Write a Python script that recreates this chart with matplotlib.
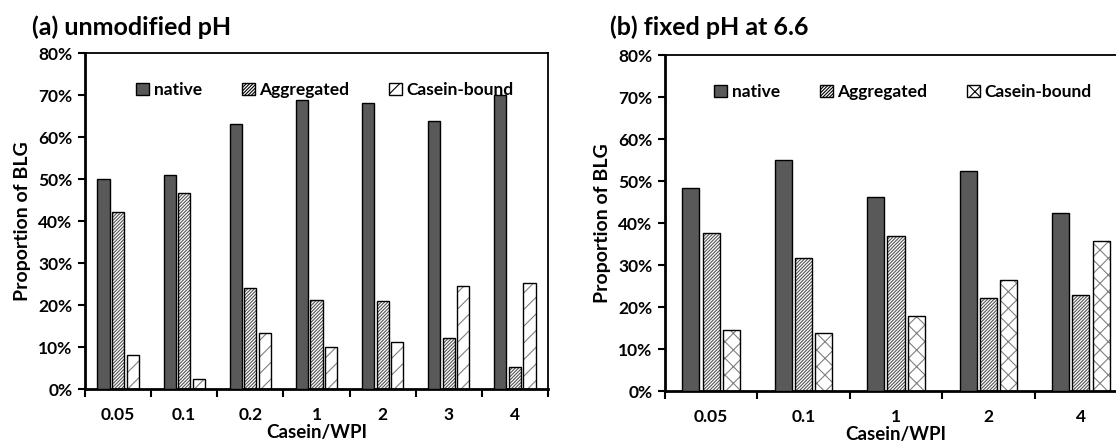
import matplotlib
matplotlib.use("Agg")
import matplotlib.pyplot as plt
import numpy as np
from matplotlib.ticker import FuncFormatter
from matplotlib.patches import Patch

plt.rcParams['font.family'] = ['Lato', 'DejaVu Sans']
plt.rcParams['hatch.linewidth'] = 0.8

# ---- data ----
cats_a = ["0.05", "0.1", "0.2", "1", "2", "3", "4"]
native_a = [50.0, 51.0, 63.1, 68.9, 68.2, 63.7, 70.0]
aggregated_a = [42.2, 46.7, 24.0, 21.3, 20.9, 12.1, 5.2]
casein_a = [8.0, 2.5, 13.3, 10.0, 11.1, 24.5, 25.2]

cats_b = ["0.05", "0.1", "1", "2", "4"]
native_b = [48.4, 55.1, 46.2, 52.4, 42.4]
aggregated_b = [37.7, 31.7, 36.9, 22.1, 22.9]
casein_b = [14.6, 13.7, 17.8, 26.4, 35.7]

series_names = ["native", "Aggregated", "Casein-bound"]
yticks = [0, 10, 20, 30, 40, 50, 60, 70, 80]

W, H = 1116, 445
fig = plt.figure(figsize=(W / 100, H / 100), dpi=100)

def px_axes(x0, y0, x1, y1):
    return fig.add_axes([x0 / W, 1 - y1 / H, (x1 - x0) / W, (y1 - y0) / H])

ax_a = px_axes(85, 53, 548, 389)
ax_b = px_axes(665, 55, 1127, 391)

styles = [
    dict(facecolor="#595959", hatch=None, hatchcolor=None),
    dict(facecolor="white", hatch="//////////", hatchcolor="#555555"),
    dict(facecolor="white", hatch="xx", hatchcolor="#808080"),
]

def draw(ax, cats, series, cb_hatch, leg_x):
    n = len(cats)
    x = np.arange(n) + 0.5
    width = 0.185
    offsets = [-0.22, 0.0, 0.22]
    for k, (vals, st) in enumerate(zip(series, styles)):
        hatch = st["hatch"] if k != 2 else cb_hatch
        if hatch:
            plt.rcParams['hatch.color'] = st["hatchcolor"]
            ax.bar(x + offsets[k], vals, width, facecolor=st["facecolor"],
                   edgecolor=st["hatchcolor"], hatch=hatch, linewidth=0, zorder=2)
            ax.bar(x + offsets[k], vals, width, facecolor="none",
                   edgecolor="black", linewidth=1.0, zorder=3)
        else:
            ax.bar(x + offsets[k], vals, width, facecolor=st["facecolor"],
                   edgecolor="black", linewidth=1.0, zorder=3)
    prox = []
    for k, st in enumerate(styles):
        hatch = st["hatch"] if k != 2 else cb_hatch
        prox.append(Patch(facecolor=st["facecolor"], edgecolor="black",
                          hatch=hatch, linewidth=1.0))
    ax.legend(prox, series_names, ncol=3, frameon=False,
              loc="upper center", bbox_to_anchor=(leg_x, 0.96),
              handlelength=0.75, handleheight=0.75, handletextpad=0.25,
              columnspacing=2.3,
              prop=dict(family=['Lato', 'DejaVu Sans'], weight='bold', size=12.5))
    ax.set_ylim(0, 80)
    ax.set_xlim(0, n)
    ax.set_yticks(yticks)
    ax.yaxis.set_major_formatter(FuncFormatter(lambda v, p: f"{int(v)}%"))
    ax.set_xticks(np.arange(n + 1))
    ax.set_xticklabels([])
    ax.set_xticks(x, minor=True)
    ax.set_xticklabels(cats, minor=True)
    ax.tick_params(axis="x", which="major", length=6, width=1.5, direction="out")
    ax.tick_params(axis="x", which="minor", length=0, pad=13, labelsize=12.5)
    ax.tick_params(axis="y", length=5, width=1.5, direction="out", labelsize=12.5, pad=4)
    for lab in ax.get_xticklabels(minor=True) + ax.get_yticklabels():
        lab.set_fontweight("bold")
    for s in ax.spines.values():
        s.set_linewidth(1.3)
    ax.spines["left"].set_linewidth(2.0)
    ax.spines["bottom"].set_linewidth(2.0)
    ax.set_ylabel("Proportion of BLG", fontsize=14, fontweight="bold", labelpad=5)
    ax.set_xlabel("Casein/WPI", fontsize=13.5, fontweight="bold", labelpad=1)

draw(ax_a, cats_a, [native_a, aggregated_a, casein_a], "//", 0.518)
draw(ax_b, cats_b, [native_b, aggregated_b, casein_b], "xx", 0.515)

fig.text(32 / W, 1 - 27 / H, "(a) unmodified pH", fontsize=18, fontweight="bold",
         va="center", ha="left")
fig.text(610 / W, 1 - 27 / H, "(b) fixed pH at 6.6", fontsize=18, fontweight="bold",
         va="center", ha="left")

fig.savefig("out.png", dpi=100)
